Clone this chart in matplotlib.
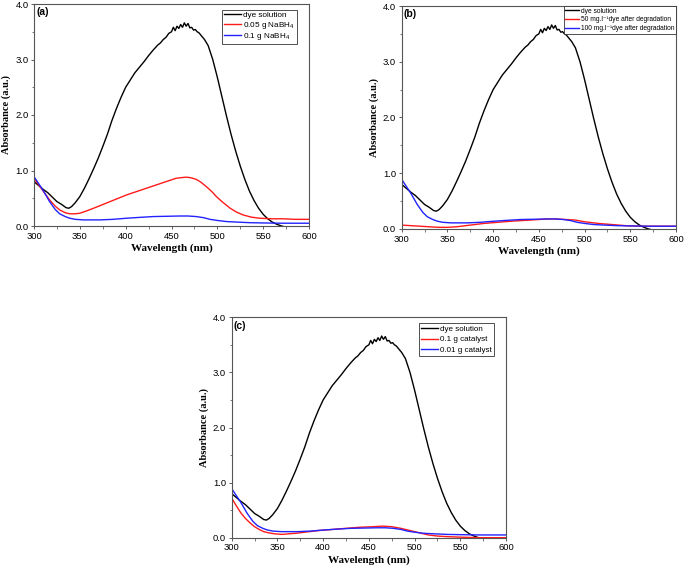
import matplotlib
matplotlib.use("Agg")
import matplotlib.pyplot as plt
import numpy as np

plt.rcParams['font.family'] = ['Liberation Sans', 'DejaVu Sans']
plt.rcParams['mathtext.fontset'] = 'custom'
plt.rcParams['mathtext.rm'] = 'Liberation Sans'
plt.rcParams['mathtext.default'] = 'regular'

# ---- data ----
dye_wl = [300, 305, 310, 315, 320, 325, 330, 335, 338, 341, 345, 350, 355, 360, 365, 370, 375, 380,
          385, 390, 395, 400, 405, 410, 415, 420, 425, 430, 435, 438, 441, 444, 447, 450, 452, 454,
          456, 458, 460, 462, 464, 466, 468, 470, 472, 474, 476, 478, 480, 483, 486, 490, 495, 500,
          505, 510, 515, 520, 525, 530, 535, 540, 545, 550, 555, 560, 565, 570, 575]
dye_abs = [0.80, 0.73, 0.66, 0.60, 0.52, 0.44, 0.39, 0.33, 0.32, 0.35, 0.42, 0.53, 0.68, 0.85, 1.03,
           1.22, 1.43, 1.65, 1.90, 2.12, 2.32, 2.50, 2.63, 2.76, 2.86, 2.96, 3.07, 3.17, 3.26, 3.30,
           3.36, 3.40, 3.47, 3.50, 3.58, 3.52, 3.60, 3.56, 3.63, 3.58, 3.66, 3.60, 3.65, 3.57, 3.58,
           3.53, 3.54, 3.50, 3.48, 3.42, 3.36, 3.25, 3.00, 2.68, 2.33, 1.98, 1.65, 1.35, 1.08, 0.84,
           0.63, 0.46, 0.32, 0.21, 0.13, 0.07, 0.03, 0.00, -0.02]

a_wl = [300, 310, 317, 323, 328, 334, 339, 345, 350, 357, 365, 374, 383, 392, 401, 410, 419, 428,
        437, 446, 455, 460, 466, 471, 477, 482, 488, 494, 499, 505, 514, 521, 528, 537, 546, 560,
        572, 585, 600]
a_red = [0.86, 0.63, 0.47, 0.36, 0.29, 0.24, 0.22, 0.22, 0.23, 0.27, 0.32, 0.38, 0.44, 0.50, 0.56,
         0.61, 0.66, 0.71, 0.76, 0.81, 0.86, 0.87, 0.88, 0.87, 0.84, 0.79, 0.71, 0.62, 0.53, 0.44,
         0.32, 0.25, 0.20, 0.16, 0.14, 0.13, 0.13, 0.12, 0.12]

blue_wl = [300, 310, 317, 323, 328, 334, 339, 345, 354, 363, 372, 386, 401, 415, 430, 445, 459,
           468, 477, 485, 492, 500, 510, 522, 535, 550, 570, 600]
blue_abs = [0.89, 0.64, 0.44, 0.30, 0.22, 0.17, 0.14, 0.12, 0.11, 0.11, 0.11, 0.12, 0.14, 0.155,
            0.17, 0.175, 0.18, 0.18, 0.17, 0.15, 0.12, 0.10, 0.08, 0.07, 0.06, 0.055, 0.05, 0.05]

b_wl = [300, 310, 320, 330, 340, 350, 360, 375, 390, 405, 420, 440, 460, 470, 480, 490, 500, 515,
        530, 545, 560, 580, 600]
b_red = [0.07, 0.06, 0.05, 0.04, 0.03, 0.03, 0.04, 0.07, 0.10, 0.12, 0.14, 0.16, 0.18, 0.18, 0.17,
         0.16, 0.13, 0.10, 0.08, 0.06, 0.05, 0.05, 0.05]

c_wl = [300, 305, 310, 315, 320, 325, 330, 335, 340, 347, 355, 362, 370, 380, 395, 410, 425, 440,
        455, 465, 475, 485, 495, 505, 515, 525, 535, 550, 570, 600]
c_red = [0.72, 0.58, 0.45, 0.35, 0.27, 0.20, 0.15, 0.11, 0.09, 0.07, 0.06, 0.07, 0.08, 0.10, 0.13,
         0.15, 0.17, 0.19, 0.20, 0.21, 0.20, 0.17, 0.13, 0.09, 0.05, 0.03, 0.02, 0.01, 0.0, 0.0]

legend_a = ['dye solution', '0.05 g NaBH$_4$', '0.1 g NaBH$_4$']
legend_b = ['dye solution', '50 mg.l\u207b\u00b9dye after degradation', '100 mg.l\u207b\u00b9dye after degradation']
legend_c = ['dye solution', '0.1 g catalyst', '0.01 g catalyst']
panel_labels = ['(a)', '(b)', '(c)']
xticks = [300, 350, 400, 450, 500, 550, 600]
yticks = [0.0, 1.0, 2.0, 3.0, 4.0]

fig = plt.figure(figsize=(6.85, 5.74), dpi=100)
W, H = 685, 574


def make_ax(l, r, t, b):
    return fig.add_axes([l / W, 1 - b / H, (r - l) / W, (b - t) / H])


axes = [make_ax(34, 309, 4, 226), make_ax(401.7, 676, 6, 229), make_ax(231.7, 506, 317.3, 537.7)]
reds = [(a_wl, a_red), (b_wl, b_red), (c_wl, c_red)]
legends = [legend_a, legend_b, legend_c]
leg_fs = [5.9, 4.8, 5.8]
leg_anchor = [(0.956, 0.975), (1.0, 1.0), (0.955, 0.973)]
leg_spacing = [0.05, 0.25, 0.35]

for i, ax in enumerate(axes):
    l1, = ax.plot(dye_wl, dye_abs, color='black', lw=1.0)
    l2, = ax.plot(reds[i][0], reds[i][1], color='#ff1a1a', lw=1.0)
    l3, = ax.plot(blue_wl, blue_abs, color='#2222ff', lw=1.0)
    ax.set_xlim(300, 600)
    ax.set_ylim(0, 4.0)
    ax.set_xticks(xticks)
    ax.set_xticklabels([str(v) for v in xticks])
    ax.set_yticks(yticks)
    ax.set_yticklabels(['%.1f' % v for v in yticks])
    ax.set_xticks(np.arange(325, 600, 50), minor=True)
    ax.set_yticks(np.arange(0.5, 4.0, 1.0), minor=True)
    ax.tick_params(which='major', direction='out', length=2.5, width=0.6, labelsize=6.8, pad=1.5,
                   color='#444444')
    ax.tick_params(which='minor', direction='out', length=1.8, width=0.5, color='#444444')
    for s in ax.spines.values():
        s.set_color('#555555')
        s.set_linewidth(0.8)
    ax.set_xlabel('Wavelength (nm)', fontfamily='Liberation Serif', fontweight='bold', fontsize=8,
                  labelpad=2)
    ax.set_ylabel('Absorbance (a.u.)', fontfamily='Liberation Serif', fontweight='bold', fontsize=7.5,
                  labelpad=3)
    ax.text(0.008, 0.985, panel_labels[i], transform=ax.transAxes, ha='left', va='top',
            fontsize=7.5, fontweight='bold')
    leg = ax.legend([l1, l2, l3], legends[i], loc='upper right', bbox_to_anchor=leg_anchor[i],
                    fontsize=leg_fs[i], frameon=True, fancybox=False, framealpha=1,
                    edgecolor='#333333', handlelength=2.1, handletextpad=0.25, borderpad=0.25,
                    labelspacing=leg_spacing[i], borderaxespad=0.0)
    leg.get_frame().set_linewidth(0.6)

fig.savefig('out.png', dpi=100)
